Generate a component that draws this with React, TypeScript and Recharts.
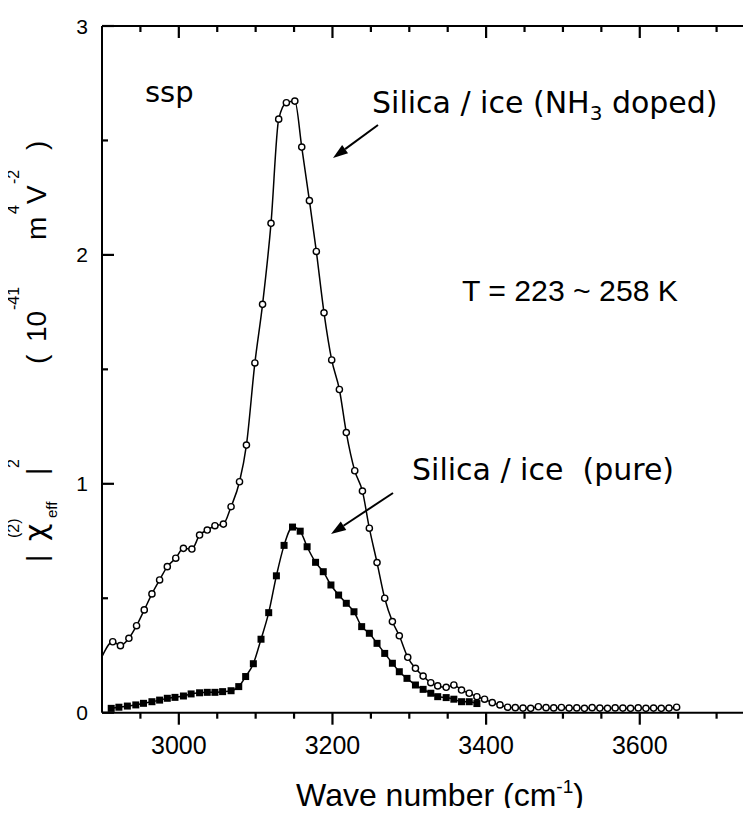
import React from 'react';
import { ComposedChart, Line, XAxis, YAxis } from 'recharts';

// Silica / ice (NH3 doped), open circles
const dopedWave = [
  2914, 2924, 2935, 2945, 2955, 2965, 2975, 2985, 2996, 3006,
  3017, 3027, 3037, 3047, 3058, 3068, 3079, 3088, 3099, 3109,
  3120, 3130, 3140, 3151, 3160, 3170, 3179, 3189, 3199, 3209,
  3218, 3229, 3239, 3248, 3258, 3268, 3278, 3287, 3298, 3308,
  3318, 3328, 3337, 3348, 3358, 3368, 3378, 3388, 3398, 3408,
  3418, 3428, 3438, 3448, 3458, 3468, 3478, 3488, 3498, 3508,
  3518, 3528, 3538, 3548, 3558, 3568, 3578, 3588, 3598, 3608,
  3618, 3628, 3638, 3648,
];
const dopedChi = [
  0.310, 0.293, 0.325, 0.380, 0.449, 0.519, 0.580, 0.638, 0.675, 0.718,
  0.715, 0.776, 0.798, 0.817, 0.824, 0.900, 1.009, 1.169, 1.528, 1.784,
  2.138, 2.593, 2.665, 2.672, 2.471, 2.237, 2.015, 1.747, 1.541, 1.412,
  1.224, 1.057, 0.968, 0.806, 0.656, 0.500, 0.398, 0.336, 0.242, 0.194,
  0.160, 0.131, 0.117, 0.111, 0.121, 0.099, 0.085, 0.070, 0.059, 0.044,
  0.034, 0.024, 0.022, 0.020, 0.019, 0.026, 0.022, 0.021, 0.023, 0.020,
  0.021, 0.019, 0.022, 0.020, 0.019, 0.021, 0.020, 0.019, 0.021, 0.019,
  0.020, 0.019, 0.020, 0.024,
];
// the fitted curve for the doped sample starts at the left frame
const dopedCurveStart = { wave: 2900, chi: 0.245 };

// Silica / ice (pure), filled squares
const pureWave = [
  2912, 2922, 2933, 2944, 2954, 2965, 2975, 2985, 2995, 3006,
  3016, 3027, 3037, 3047, 3057, 3068, 3078, 3087, 3097, 3107,
  3117, 3127, 3137, 3148, 3158, 3167, 3178, 3188, 3198, 3208,
  3218, 3228, 3238, 3248, 3258, 3268, 3278, 3287, 3297, 3308,
  3318, 3328, 3337, 3348, 3358, 3368, 3378, 3388,
];
const pureChi = [
  0.019, 0.024, 0.029, 0.034, 0.041, 0.048, 0.055, 0.063, 0.067, 0.073,
  0.082, 0.087, 0.089, 0.089, 0.092, 0.096, 0.114, 0.158, 0.214, 0.321,
  0.437, 0.598, 0.731, 0.811, 0.793, 0.725, 0.657, 0.616, 0.558, 0.514,
  0.478, 0.441, 0.376, 0.347, 0.303, 0.259, 0.216, 0.179, 0.150, 0.121,
  0.102, 0.085, 0.070, 0.066, 0.059, 0.048, 0.048, 0.040,
];

// minor ticks every 50, major (labelled) every 200
const xMinorTicks = [
  2950, 3050, 3100, 3150, 3250, 3300, 3350,
  3450, 3500, 3550, 3650, 3700,
];
const xLabels = [3000, 3200, 3400, 3600];
const yMinorTicks = [0.5, 1.5, 2.5];
const yLabels = [0, 1, 2, 3];

const dopedPoints = dopedWave.map((wave, i) => ({ wave, chi: dopedChi[i] }));
const dopedCurve = [dopedCurveStart, ...dopedPoints];
const purePoints = pureWave.map((wave, i) => ({ wave, chi: pureChi[i] }));

const numFont = '"Liberation Sans", Arial, sans-serif';
const noteFont = '"DejaVu Sans", sans-serif';

const X_MIN = 2900;
const X_MAX = 3750;
const Y_MIN = 0;
const Y_MAX = 3;

// chart geometry (each axis is 1px deep)
const CHART_W = 800;
const CHART_H = 816;
const MARGIN = { top: 25, right: 44, bottom: 102.3, left: 101 };
const PLOT_L = MARGIN.left + 1;
const PLOT_T = MARGIN.top + 1;
const PLOT_W = CHART_W - MARGIN.left - MARGIN.right - 2;
const PLOT_H = CHART_H - MARGIN.top - MARGIN.bottom - 2;
const PLOT_B = PLOT_T + PLOT_H;
const PLOT_R = PLOT_L + PLOT_W;
const toPx = (v: number) => PLOT_L + ((v - X_MIN) / (X_MAX - X_MIN)) * PLOT_W;
const toPy = (v: number) => PLOT_T + ((Y_MAX - v) / (Y_MAX - Y_MIN)) * PLOT_H;

const MAJOR = 12;
const MINOR = 6;

const frame = { stroke: '#000', strokeWidth: 2 };

const XLabel = ({ x, y, payload }: any) => (
  <text x={x} y={y + 41} textAnchor="middle" fontFamily={numFont} fontSize={25} fill="#000">
    {payload.value}
  </text>
);

const YLabel = ({ x, y, payload }: any) => (
  <text x={x - 14} y={y + 7.5} textAnchor="end" fontFamily={numFont} fontSize={21} fill="#000">
    {payload.value}
  </text>
);

const OpenCircle = (props: any) => {
  const { cx, cy, index } = props;
  return <circle key={`o-${index}`} cx={cx} cy={cy} r={3.1} fill="#fff" stroke="#000" strokeWidth={1.4} />;
};

const FilledSquare = (props: any) => {
  const { cx, cy, index } = props;
  return <rect key={`s-${index}`} x={cx - 3.5} y={cy - 3.5} width={7} height={7} fill="#000" />;
};

const Arrow = ({ x1, y1, x2, y2 }: { x1: number; y1: number; x2: number; y2: number }) => {
  const a = Math.atan2(y2 - y1, x2 - x1);
  const len = 15;
  const half = 5;
  const bx = x2 - len * Math.cos(a);
  const by = y2 - len * Math.sin(a);
  const pts = [
    [x2, y2],
    [bx + half * Math.sin(a), by - half * Math.cos(a)],
    [bx - half * Math.sin(a), by + half * Math.cos(a)],
  ];
  return (
    <g>
      <line x1={x1} y1={y1} x2={bx} y2={by} stroke="#000" strokeWidth={2} />
      <polygon points={pts.map((p) => p.join(',')).join(' ')} fill="#000" />
    </g>
  );
};

const Tick = ({ x1, y1, x2, y2 }: { x1: number; y1: number; x2: number; y2: number }) => (
  <line x1={x1} y1={y1} x2={x2} y2={y2} stroke="#000" strokeWidth={2.2} />
);

// tick marks on all four sides: bottom ones point out, the others point into the plot
const FrameTicks = () => {
  const xs: [number, number][] = [
    ...xLabels.map((v): [number, number] => [v, MAJOR]),
    ...xMinorTicks.map((v): [number, number] => [v, MINOR]),
  ];
  const ys: [number, number][] = [
    ...yLabels.map((v): [number, number] => [v, MAJOR]),
    ...yMinorTicks.map((v): [number, number] => [v, MINOR]),
  ];
  return (
    <g>
      {xs.map(([v, len]) => (
        <g key={`x${v}`}>
          <Tick x1={toPx(v)} y1={PLOT_B} x2={toPx(v)} y2={PLOT_B + len} />
          <Tick x1={toPx(v)} y1={PLOT_T} x2={toPx(v)} y2={PLOT_T + len} />
        </g>
      ))}
      {ys.map(([v, len]) => (
        <g key={`y${v}`}>
          <Tick x1={PLOT_L} y1={toPy(v)} x2={PLOT_L + len} y2={toPy(v)} />
          <Tick x1={PLOT_R} y1={toPy(v)} x2={PLOT_R - len} y2={toPy(v)} />
        </g>
      ))}
    </g>
  );
};

const App = () => {
  return (
    <div
      style={{
        position: 'relative',
        width: 751,
        height: 816,
        margin: '-8px 0 -8px -8px',
        overflow: 'hidden',
        background: '#fff',
      }}
    >
      <ComposedChart width={CHART_W} height={CHART_H} margin={MARGIN}>
        <XAxis
          xAxisId="bottom"
          type="number"
          dataKey="wave"
          domain={[X_MIN, X_MAX]}
          ticks={xLabels}
          interval={0}
          height={1}
          tickSize={0}
          tickMargin={0}
          tickLine={false}
          axisLine={frame}
          tick={(p: any) => <XLabel {...p} />}
        />
        <XAxis
          xAxisId="top"
          orientation="top"
          type="number"
          dataKey="wave"
          domain={[X_MIN, X_MAX]}
          ticks={xLabels}
          height={1}
          tickLine={false}
          axisLine={frame}
          tick={false}
        />
        <YAxis
          yAxisId="left"
          type="number"
          domain={[Y_MIN, Y_MAX]}
          ticks={yLabels}
          interval={0}
          width={1}
          tickSize={0}
          tickMargin={0}
          tickLine={false}
          axisLine={frame}
          tick={(p: any) => <YLabel {...p} />}
        />
        <YAxis
          yAxisId="right"
          orientation="right"
          type="number"
          domain={[Y_MIN, Y_MAX]}
          ticks={yLabels}
          width={1}
          tickLine={false}
          axisLine={frame}
          tick={false}
        />

        <Line
          xAxisId="bottom"
          yAxisId="left"
          data={purePoints}
          dataKey="chi"
          type="monotone"
          stroke="#000"
          strokeWidth={1.5}
          dot={(p: any) => <FilledSquare {...p} />}
          activeDot={false}
          isAnimationActive={false}
        />
        <Line
          xAxisId="bottom"
          yAxisId="left"
          data={dopedCurve}
          dataKey="chi"
          type="monotone"
          stroke="#000"
          strokeWidth={1.5}
          dot={false}
          activeDot={false}
          isAnimationActive={false}
        />
        <Line
          xAxisId="bottom"
          yAxisId="left"
          data={dopedPoints}
          dataKey="chi"
          stroke="none"
          dot={(p: any) => <OpenCircle {...p} />}
          activeDot={false}
          isAnimationActive={false}
        />
      </ComposedChart>

      <svg
        width={751}
        height={816}
        style={{ position: 'absolute', left: 0, top: 0, pointerEvents: 'none' }}
      >
        <FrameTicks />

        <text x={145} y={102} fontFamily={noteFont} fontSize={29} fill="#000">ssp</text>

        <text x={372} y={113} fontFamily={noteFont} fontSize={30} fill="#000">
          Silica / ice (NH
          <tspan fontSize={20} dy={7}>3</tspan>
          <tspan dy={-7}> doped)</tspan>
        </text>
        <Arrow x1={378} y1={125} x2={333} y2={158} />

        <text x={462} y={301} fontFamily={numFont} fontSize={30} textLength={216} lengthAdjust="spacingAndGlyphs" fill="#000">
          T = 223 ~ 258 K
        </text>

        <text x={412} y={480} fontFamily={noteFont} fontSize={30} fill="#000" style={{ whiteSpace: 'pre' }}>
          {'Silica / ice  (pure)'}
        </text>
        <Arrow x1={393} y1={493} x2={331} y2={534} />

        <text x={440} y={806} textAnchor="middle" fontFamily={numFont} fontSize={32} fill="#000">
          Wave number (cm
          <tspan fontSize={19} dy={-13}>-1</tspan>
          <tspan dy={13}>)</tspan>
        </text>

        <g fontFamily={numFont} fill="#000" transform="rotate(-90)">
          <text x={-562} y={46} fontSize={28}>|</text>
          <text x={-541} y={46} fontSize={30} fontFamily={noteFont}>χ</text>
          <text x={-538} y={19} fontSize={16}>(2)</text>
          <text x={-518} y={57} fontSize={15}>eff</text>
          <text x={-475} y={46} fontSize={28}>|</text>
          <text x={-468} y={19} fontSize={16}>2</text>
          <text x={-364} y={46} fontSize={28}>(</text>
          <text x={-342} y={46} fontSize={28}>10</text>
          <text x={-310} y={19} fontSize={16}>-41</text>
          <text x={-240} y={46} fontSize={28}>m</text>
          <text x={-214} y={19} fontSize={16}>4</text>
          <text x={-204} y={46} fontSize={28}>V</text>
          <text x={-184} y={19} fontSize={16}>-2</text>
          <text x={-150} y={46} fontSize={28}>)</text>
        </g>
      </svg>
    </div>
  );
};

export default App;
